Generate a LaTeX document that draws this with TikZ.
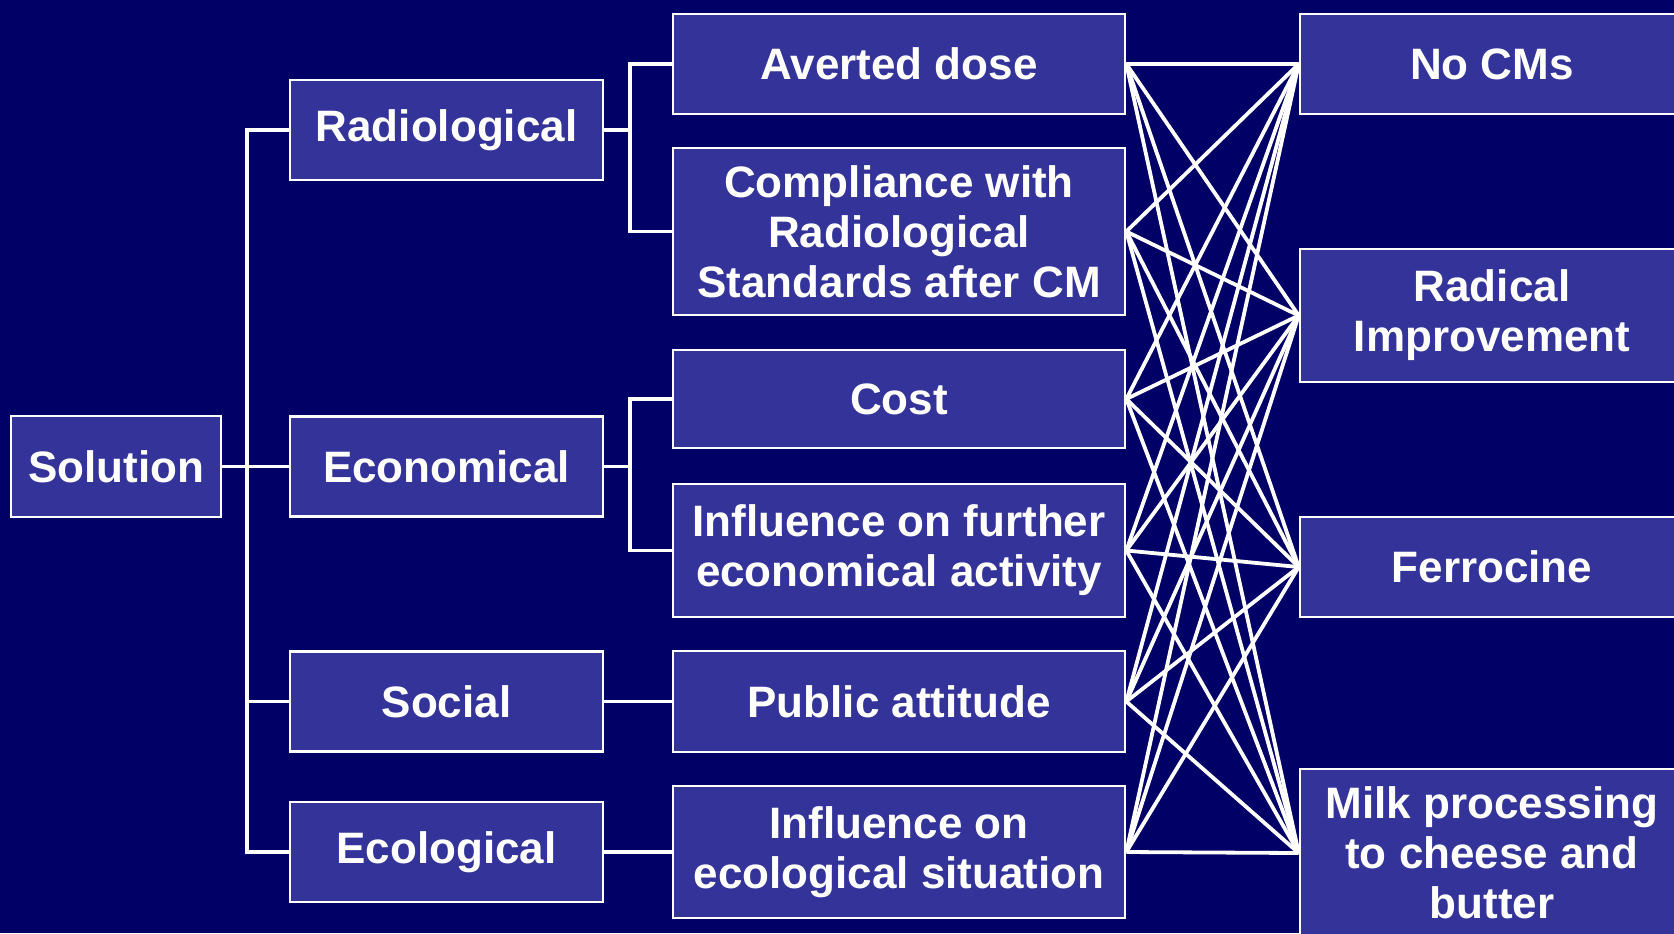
\documentclass[tikz,border=0pt]{standalone}
\usepackage{fontspec}
\setmainfont{Liberation Sans}
\definecolor{slideBg}{RGB}{0,0,102}
\definecolor{boxFill}{RGB}{51,51,153}

\begin{document}
\begin{tikzpicture}[x=0.5pt, y=-0.5pt,
  box/.style={draw=white, line width=1.3pt, fill=boxFill, text=white,
              font=\bfseries\fontsize{22}{25}\selectfont, align=center, inner sep=0pt},
  aspect/.style={box, minimum width=156.5pt, minimum height=50pt},
  crit/.style={box, minimum width=226pt},
  choice/.style={box, minimum width=192pt},
  link/.style={white, line width=1.9pt}]
  \fill[slideBg] (0,0) rectangle (1674,933);
  \clip (0,0) rectangle (1674,933);
  % root and aspects
  \node[box, minimum width=105pt, minimum height=50.5pt] (sol) at (116,466.5) {Solution};
  \node[aspect] (rad) at (446.5,130) {Radiological};
  \node[aspect] (eco) at (446.5,466.5) {Economical};
  \node[aspect] (soc) at (446.5,701.5) {Social};
  \node[aspect] (ecol) at (446.5,852) {Ecological};
  % criteria
  \node[crit, minimum height=50pt] (avd) at (899,64) {Averted dose};
  \node[crit, minimum height=83.5pt] (cmp) at (899,231.5) {Compliance with\\Radiological\\Standards after CM};
  \node[crit, minimum height=49pt] (cost) at (899,399) {Cost};
  \node[crit, minimum height=66.5pt] (infl) at (899,550.5) {Influence on further\\economical activity};
  \node[crit, minimum height=50.5pt] (pub) at (899,701.5) {Public attitude};
  \node[crit, minimum height=66pt] (env) at (899,852) {Influence on\\ecological situation};
  % countermeasures
  \node[choice, minimum height=50pt] (none) at (1492,64) {No CMs};
  \node[choice, minimum height=66.5pt] (radimp) at (1492,315.5) {Radical\\Improvement};
  \node[choice, minimum height=50pt] (ferr) at (1492,567) {Ferrocine};
  \node[choice, minimum height=84pt] (milk) at (1492,853) {Milk processing\\to cheese and\\butter};
  % tree
  \coordinate (trunk) at (247,0);
  \coordinate (fork) at (630,0);
  \draw[link] (sol.east) -- (sol.east -| trunk);
  \draw[link] (rad.west) -| (ecol.west -| trunk) -- (ecol.west);
  \draw[link] (eco.west) -- (eco.west -| trunk);
  \draw[link] (soc.west) -- (soc.west -| trunk);
  \draw[link] (rad.east) -- (rad.east -| fork);
  \draw[link] (avd.west) -| (cmp.west -| fork) -- (cmp.west);
  \draw[link] (eco.east) -- (eco.east -| fork);
  \draw[link] (cost.west) -| (infl.west -| fork) -- (infl.west);
  \draw[link] (soc.east) -- (pub.west);
  \draw[link] (ecol.east) -- (env.west);
  % every criterion to every countermeasure
  \foreach \c in {avd,cmp,cost,infl,pub,env}
    \foreach \o in {none,radimp,ferr,milk}
      \draw[link] (\c.east) -- (\o.west);
\end{tikzpicture}
\end{document}
